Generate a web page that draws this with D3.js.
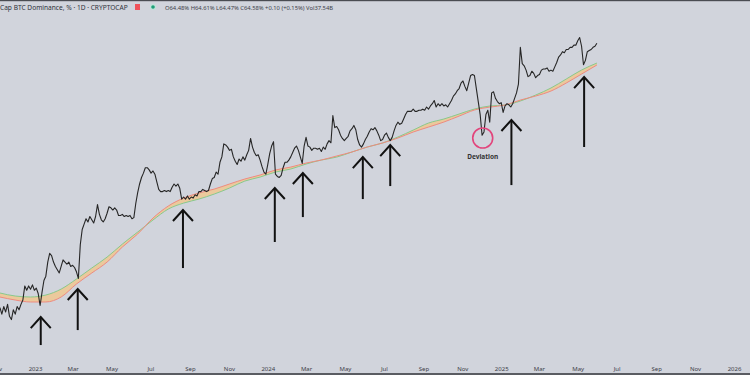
<!DOCTYPE html>
<html>
<head>
<meta charset="utf-8">
<script src="https://cdn.jsdelivr.net/npm/d3@7"></script>
<style>
  html, body { margin: 0; padding: 0; background: #d1d4dc; overflow: hidden; }
  svg { display: block; font-family: "Noto Sans", "Liberation Sans", sans-serif; }
</style>
</head>
<body>
<div id="chart"></div>
<script>
const width = 750, height = 375;
const parseDay = d3.utcParse("%Y-%m-%d");

// BTC dominance (%), one value every 3 days from startDate
const startDate = "2022-11-07";
const stepDays = 3;
const dominance = [
  40.2, 39.6, 40.3, 39.8, 40.5, 39.4, 39.1, 40.0, 39.6, 40.3,
  40.0, 40.5, 40.9, 42.2, 41.8, 42.2, 41.9, 42.3, 41.8, 42.0,
  41.5, 40.4, 41.6, 42.7, 43.1, 44.4, 45.2, 45.0, 44.4, 44.0,
  43.7, 43.4, 44.0, 44.6, 44.4, 44.2, 44.4, 44.0, 44.1, 43.9,
  43.5, 42.9, 46.0, 47.4, 47.9, 48.4, 48.1, 48.6, 48.3, 48.0,
  48.6, 49.7, 48.8, 48.3, 48.1, 48.4, 48.9, 49.5, 49.4, 49.2,
  49.4, 49.2, 48.7, 48.7, 48.8, 48.6, 48.7, 48.6, 48.7, 48.4,
  48.5, 49.8, 50.8, 51.6, 52.2, 52.6, 53.1, 53.1, 52.9, 52.6,
  52.8, 52.5, 51.8, 51.1, 50.9, 50.9, 51.0, 50.9, 51.0, 50.9,
  51.3, 51.6, 51.4, 51.6, 51.2, 50.2, 50.4, 50.2, 50.5, 50.2,
  50.4, 50.3, 50.6, 50.5, 50.9, 50.9, 51.1, 51.0, 50.9, 51.0,
  51.6, 52.1, 52.2, 52.7, 52.5, 53.6, 54.1, 55.3, 55.2, 55.0,
  54.7, 54.8, 54.1, 53.7, 53.4, 53.9, 53.7, 54.1, 53.8, 54.3,
  54.7, 55.8, 55.0, 54.5, 54.2, 54.3, 53.8, 53.2, 52.7, 52.5,
  53.4, 54.4, 55.1, 55.5, 52.5, 52.3, 52.2, 52.4, 53.1, 53.6,
  53.6, 53.8, 54.1, 54.5, 54.9, 55.1, 54.7, 54.1, 53.5, 55.1,
  55.9, 55.1, 55.0, 54.7, 54.9, 54.9, 54.8, 54.9, 54.6, 55.0,
  54.8, 55.3, 55.6, 55.4, 57.9, 56.8, 56.9, 56.6, 56.1, 55.8,
  55.6, 55.8, 56.0, 56.5, 56.7, 57.0, 56.6, 55.7, 55.2, 55.0,
  55.3, 55.7, 56.0, 56.4, 56.7, 56.6, 56.8, 56.5, 56.1, 55.6,
  55.7, 56.1, 56.3, 55.9, 55.6, 55.9, 56.5, 57.0, 57.3, 57.1,
  57.2, 57.6, 58.0, 58.3, 58.3, 58.3, 58.5, 58.3, 58.3, 58.4,
  58.4, 58.5, 58.4, 58.7, 58.5, 58.8, 59.0, 59.3, 58.7, 59.0,
  58.8, 59.0, 58.8, 58.9, 58.7, 59.0, 59.3, 59.7, 59.9, 60.2,
  60.4, 60.9, 61.1, 60.6, 60.2, 60.9, 61.6, 61.7, 61.6, 60.4,
  59.2, 58.0, 56.1, 56.4, 58.0, 58.4, 57.3, 60.0, 60.1, 59.5,
  59.2, 59.0, 59.1, 58.2, 58.8, 59.0, 58.9, 58.7, 59.0, 59.5,
  60.0, 60.8, 64.2, 62.7, 62.5, 62.1, 61.5, 61.6, 62.0, 61.8,
  61.4, 61.6, 61.7, 62.1, 62.2, 62.2, 62.3, 62.0, 62.1, 62.0,
  62.4, 62.8, 63.3, 63.5, 63.8, 63.7, 64.0, 64.0, 64.2, 64.2,
  64.4, 64.4, 64.8, 65.1, 64.3, 62.6, 63.0, 63.8, 63.9, 64.0,
  64.2, 64.3, 64.58
];

// bull market support band, one value every 24 days
const bandStartDate = "2022-11-07";
const bandStepDays = 24;
const ema21w = [
  41.55, 41.27, 41.18, 41.36, 41.91, 42.84, 43.85, 44.86, 46.06, 47.17,
  48.28, 49.29, 49.84, 50.21, 50.67, 51.23, 51.87, 52.24, 52.70, 52.98,
  53.44, 53.81, 54.08, 54.55, 55.01, 55.38, 55.93, 56.57, 57.22, 57.59,
  58.05, 58.51, 58.79, 58.88, 59.25, 59.80, 60.45, 61.28, 62.11, 62.75
];
const sma20w = [
  41.18, 40.90, 40.72, 40.72, 41.18, 42.38, 43.39, 44.40, 45.79, 46.99,
  48.46, 49.57, 50.30, 50.77, 51.13, 51.60, 52.06, 52.43, 52.89, 53.16,
  53.53, 53.81, 54.18, 54.55, 55.01, 55.38, 55.84, 56.39, 56.85, 57.31,
  57.86, 58.42, 58.69, 58.88, 59.34, 59.71, 60.17, 60.91, 61.74, 62.57
];

// annotation arrows: date, tip value, tail value
const arrowDates = ["2023-01-10", "2023-03-09", "2023-08-21", "2024-01-12", "2024-02-25",
                    "2024-05-29", "2024-07-11", "2025-01-17", "2025-05-11"];
const arrowTips  = [39.33, 41.92, 49.20, 51.23, 52.61, 54.08, 55.19, 57.50, 61.46];
const arrowTails = [36.75, 38.13, 43.85, 46.25, 48.55, 50.21, 51.41, 51.50, 55.01];

const deviationDate = "2024-12-03";
const deviationValue = 55.84;
const deviationLabel = "Deviation";

const headerTitle = "Cap BTC Dominance, % · 1D · CRYPTOCAP";
const headerValues = "O64.48% H64.61% L64.47% C64.58% +0.10 (+0.15%) Vol37.54B";

const series = dominance.map((v, i) => ({
  date: d3.utcDay.offset(parseDay(startDate), i * stepDays), value: v
}));
const band = ema21w.map((v, i) => ({
  date: d3.utcDay.offset(parseDay(bandStartDate), i * bandStepDays), ema: v, sma: sma20w[i]
}));

const svg = d3.select("#chart").append("svg")
  .attr("width", width)
  .attr("height", height);

svg.append("rect").attr("width", width).attr("height", height).attr("fill", "#d1d4dc");

const xScale = d3.scaleUtc()
  .domain([parseDay("2023-01-01"), parseDay("2026-01-01")])
  .range([35, 734]);
const yScale = d3.scaleLinear()
  .domain([40, 64.6])
  .range([309.8, 43]);

// band fill + its two lines
svg.append("path")
  .datum(band)
  .attr("fill", "#f1c58c")
  .attr("opacity", 0.8)
  .attr("d", d3.area().curve(d3.curveMonotoneX)
    .x(d => xScale(d.date)).y0(d => yScale(d.sma)).y1(d => yScale(d.ema)));

svg.append("path")
  .datum(band)
  .attr("fill", "none").attr("stroke", "#88c98c").attr("stroke-width", 1)
  .attr("d", d3.line().curve(d3.curveMonotoneX).x(d => xScale(d.date)).y(d => yScale(d.ema)));

svg.append("path")
  .datum(band)
  .attr("fill", "none").attr("stroke", "#ee8a80").attr("stroke-width", 1)
  .attr("d", d3.line().curve(d3.curveMonotoneX).x(d => xScale(d.date)).y(d => yScale(d.sma)));

// price
svg.append("path")
  .datum(series)
  .attr("fill", "none")
  .attr("stroke", "#262626")
  .attr("stroke-width", 1.1)
  .attr("stroke-linejoin", "round")
  .attr("d", d3.line().x(d => xScale(d.date)).y(d => yScale(d.value)));

// arrows
const arrows = svg.selectAll("g.arrow")
  .data(arrowDates.map((d, i) => ({date: parseDay(d), tip: arrowTips[i], tail: arrowTails[i]})))
  .enter().append("g")
  .attr("class", "arrow")
  .attr("fill", "none")
  .attr("stroke", "#111")
  .attr("stroke-width", 2);

arrows.append("line")
  .attr("x1", d => xScale(d.date)).attr("x2", d => xScale(d.date))
  .attr("y1", d => yScale(d.tail)).attr("y2", d => yScale(d.tip) + 1);

arrows.append("path")
  .attr("d", d => {
    const x = xScale(d.date), y = yScale(d.tip);
    return `M${x - 10},${y + 11}L${x},${y}L${x + 10},${y + 11}`;
  });

// deviation marker
svg.append("circle")
  .attr("cx", xScale(parseDay(deviationDate)))
  .attr("cy", yScale(deviationValue))
  .attr("r", 10)
  .attr("fill", "none")
  .attr("stroke", "#e2457c")
  .attr("stroke-width", 1.6);

svg.append("text")
  .attr("x", xScale(parseDay(deviationDate)))
  .attr("y", yScale(deviationValue) + 21)
  .attr("text-anchor", "middle")
  .attr("font-size", 6.5)
  .attr("font-weight", "bold")
  .attr("fill", "#333")
  .text(deviationLabel);

// x axis
const tickDates = d3.utcMonth.every(2).range(parseDay("2022-11-01"), parseDay("2026-01-02"));
const xAxis = svg.append("g")
  .attr("transform", "translate(0,361)")
  .call(d3.axisBottom(xScale)
    .tickValues(tickDates)
    .tickSize(0)
    .tickPadding(6)
    .tickFormat(d => d.getUTCMonth() === 0 ? d3.utcFormat("%Y")(d) : d3.utcFormat("%b")(d)));
xAxis.select(".domain").remove();
xAxis.selectAll("text")
  .attr("font-size", 6)
  .attr("font-family", "Noto Sans, sans-serif")
  .attr("fill", "#3d4048");

// header legend
svg.append("text")
  .attr("x", 0).attr("y", 10)
  .attr("font-size", 6.6)
  .attr("fill", "#2f323a")
  .text(headerTitle);

svg.append("rect")
  .attr("x", 135).attr("y", 4).attr("width", 5).attr("height", 6)
  .attr("fill", "#f0525a");

svg.append("circle")
  .attr("cx", 153).attr("cy", 7).attr("r", 3)
  .attr("fill", "#bfe4d8");
svg.append("circle")
  .attr("cx", 153).attr("cy", 7).attr("r", 1.8)
  .attr("fill", "#1e9e78");

svg.append("text")
  .attr("x", 165).attr("y", 9.5)
  .attr("font-size", 5.8)
  .attr("fill", "#3d4048")
  .text(headerValues);

// frame lines
svg.append("rect").attr("x", 0).attr("y", 0).attr("width", width).attr("height", 1.2).attr("fill", "#4a4c52");
svg.append("rect").attr("x", 0).attr("y", 373).attr("width", width).attr("height", 2).attr("fill", "#5a5c62");
</script>
</body>
</html>
